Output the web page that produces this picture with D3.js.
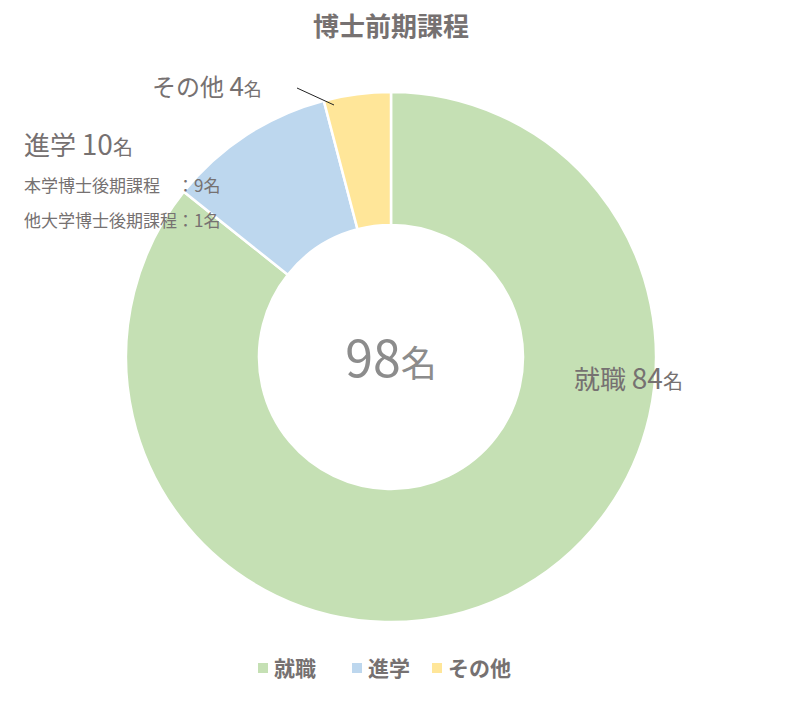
<!DOCTYPE html>
<html><head><meta charset="utf-8">
<script src="https://cdn.jsdelivr.net/npm/d3@7"></script>
<style>body{margin:0;background:#fff;font-family:"Noto Sans CJK JP","Noto Sans",sans-serif;}</style>
</head><body><svg id="c" width="795" height="706"></svg>
<script>
const categories=["就職","進学","その他"];
const values=[84,10,4];
const colors=["#c5e0b4","#bdd7ee","#ffe699"];
const total=d3.sum(values);
const svg=d3.select("#c");
const cx=391,cy=357,R=265,r=132;
const g=svg.append("g").attr("transform",`translate(${cx},${cy})`);
const pie=d3.pie().sort(null).value(d=>d)(values);
const arc=d3.arc().innerRadius(r).outerRadius(R);
g.selectAll("path").data(pie).join("path").attr("d",arc)
 .attr("fill",(d,i)=>colors[i]).attr("stroke","#fff").attr("stroke-width",2.5);
const tc="#767171";
svg.append("text").attr("x",391).attr("y",36).attr("text-anchor","middle")
 .attr("font-size",26).attr("font-weight","bold").attr("fill",tc).text("博士前期課程");
const ct=svg.append("text").attr("x",391).attr("y",377).attr("text-anchor","middle").attr("fill","#8c8c8c");
ct.append("tspan").attr("font-size",50).text(total);
ct.append("tspan").attr("font-size",36).text("名");
function lab(x,y,big,num,sz){const t=svg.append("text").attr("x",x).attr("y",y).attr("fill",tc);
 t.append("tspan").attr("font-size",sz).text(big+" ");
 t.append("tspan").attr("font-size",sz+2).text(num);
 t.append("tspan").attr("font-size",sz-6).text("名");}
lab(574,389,categories[0],values[0],26);
lab(24,155,categories[1],values[1],26);
lab(152,96,categories[2],values[2],24);
svg.append("text").attr("x",24).attr("y",192).attr("font-size",17).attr("fill",tc).attr("xml:space","preserve").text("本学博士後期課程　：9名");
svg.append("text").attr("x",24).attr("y",227).attr("font-size",17).attr("fill",tc).text("他大学博士後期課程：1名");
svg.append("line").attr("x1",297).attr("y1",88).attr("x2",334).attr("y2",105).attr("stroke","#222").attr("stroke-width",1);
const lx=[258,352,432];
categories.forEach((c,i)=>{
 svg.append("rect").attr("x",lx[i]).attr("y",663).attr("width",10).attr("height",10).attr("fill",colors[i]);
 svg.append("text").attr("x",lx[i]+16).attr("y",676).attr("font-size",21).attr("font-weight","bold").attr("fill",tc).text(c);
});
</script></body></html>
